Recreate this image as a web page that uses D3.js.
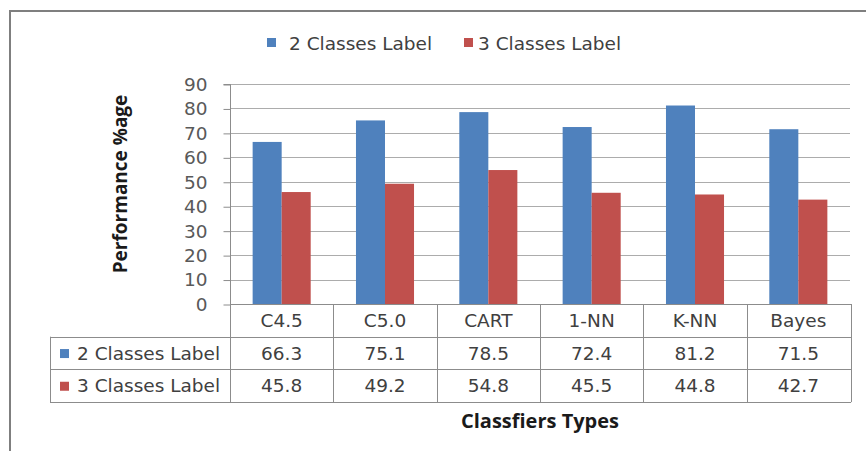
<!DOCTYPE html>
<html><head><meta charset="utf-8">
<script src="https://cdn.jsdelivr.net/npm/d3@7"></script>
<style>
html,body{margin:0;padding:0;background:#fff;overflow:hidden;}
svg{display:block;font-family:"DejaVu Sans",sans-serif;}
</style></head>
<body>
<script>
const categories = ["C4.5","C5.0","CART","1-NN","K-NN","Bayes"];
const seriesNames = ["2 Classes Label","3 Classes Label"];
const twoClasses = [66.3,75.1,78.5,72.4,81.2,71.5];
const threeClasses = [45.8,49.2,54.8,45.5,44.8,42.7];
const yTicks = [0,10,20,30,40,50,60,70,80,90];
const colors = ["#4F81BD","#C0504D"];
const yTitle = "Performance %age";
const xTitle = "Classfiers Types";

const seriesValues = [twoClasses, threeClasses];
const W = 866, H = 451;
const FS = "18.5px";
const TXT = "#404040";
const svg = d3.select("body").append("svg").attr("width",W).attr("height",H);

// outer chart border
svg.append("rect").attr("x",10).attr("y",11).attr("width",880).attr("height",460)
  .attr("fill","#fff").attr("stroke","#7f7f7f").attr("stroke-width",2);

const plotL = 230, plotR = 850, plotT = 84, plotB = 304;
const y = d3.scaleLinear().domain([0,90]).range([plotB,plotT]);
const x0 = d3.scaleBand().domain(categories).range([plotL,plotR]).padding(0);
const x1 = d3.scaleBand().domain(seriesNames).range([0,x0.bandwidth()]).paddingInner(0).paddingOuter(0.78);

// gridlines
svg.append("g").selectAll("line").data(yTicks.filter(d=>d>0)).join("line")
  .attr("x1",plotL).attr("x2",plotR).attr("y1",d=>Math.round(y(d))+0.5).attr("y2",d=>Math.round(y(d))+0.5)
  .attr("stroke","#acacac").attr("stroke-width",1);

// y axis
const yAxis = d3.axisLeft(y).tickValues(yTicks).tickSize(7).tickPadding(16).tickFormat(d3.format("d"));
const ya = svg.append("g").attr("transform",`translate(${plotL+0.5},0.5)`).call(yAxis);
ya.select(".domain").attr("stroke","#8c8c8c").attr("d",`M-7,${y(90)}H0V${plotB}`);
ya.selectAll(".tick line").attr("stroke","#8c8c8c");
ya.selectAll(".tick text").attr("fill","#595959").style("font-size",FS).style("font-family","'DejaVu Sans',sans-serif");

// bars
const groups = svg.append("g").selectAll("g").data(categories).join("g")
  .attr("transform",d=>`translate(${x0(d)},0)`);
groups.selectAll("rect").data((c,i)=>seriesNames.map((s,k)=>({s,v:seriesValues[k][i],k}))).join("rect")
  .attr("x",d=>x1(d.s)).attr("width",x1.bandwidth())
  .attr("y",d=>y(d.v)).attr("height",d=>y(0)-y(d.v))
  .attr("fill",d=>colors[d.k]);

// legend (top)
const legendX = [267,464];
const lg = svg.append("g").selectAll("g").data(seriesNames).join("g")
  .attr("transform",(d,i)=>`translate(${legendX[i]},0)`);
lg.append("rect").attr("x",0).attr("y",38).attr("width",9).attr("height",9).attr("fill",(d,i)=>colors[i]);
lg.append("text").attr("x",(d,i)=>i===0?22:14).attr("y",43).attr("dominant-baseline","central")
  .attr("fill",TXT).style("font-size",FS).text(d=>d);

// data table
const rowH = 32.7;
const tTop = plotB, tLeft = 50;
const rowY = [tTop, tTop+rowH, tTop+2*rowH, tTop+3*rowH];
const tg = svg.append("g");
const lineC = "#8c8c8c";
tg.append("line").attr("x1",plotL).attr("x2",plotR+1).attr("y1",rowY[0]+0.5).attr("y2",rowY[0]+0.5).attr("stroke",lineC);
[1,2,3].forEach(r=>{
  tg.append("line").attr("x1",tLeft).attr("x2",plotR+1).attr("y1",Math.round(rowY[r])+0.5).attr("y2",Math.round(rowY[r])+0.5).attr("stroke",lineC);
});
tg.append("line").attr("x1",tLeft+0.5).attr("x2",tLeft+0.5).attr("y1",rowY[1]).attr("y2",rowY[3]).attr("stroke",lineC);
const vx = categories.map(c=>x0(c)).concat([plotR+1]);
vx.forEach(v=>{
  tg.append("line").attr("x1",Math.round(v)+0.5).attr("x2",Math.round(v)+0.5).attr("y1",rowY[0]).attr("y2",rowY[3]).attr("stroke",lineC);
});
tg.selectAll("text.cat").data(categories).join("text").attr("class","cat")
  .attr("x",d=>x0(d)+x0.bandwidth()/2).attr("y",(rowY[0]+rowY[1])/2).attr("text-anchor","middle")
  .attr("dominant-baseline","central").attr("fill",TXT).style("font-size",FS).text(d=>d);
seriesNames.forEach((s,k)=>{
  const yc = (rowY[k+1]+rowY[k+2])/2;
  tg.append("rect").attr("x",60).attr("y",yc-4).attr("width",9).attr("height",9).attr("fill",colors[k]);
  tg.append("text").attr("x",77).attr("y",yc).attr("dominant-baseline","central")
    .attr("fill",TXT).style("font-size",FS).text(s);
  tg.selectAll(null).data(seriesValues[k]).join("text")
    .attr("x",(d,i)=>x0(categories[i])+x0.bandwidth()/2).attr("y",yc).attr("text-anchor","middle")
    .attr("dominant-baseline","central").attr("fill",TXT).style("font-size",FS).text(d=>d.toFixed(1));
});

// axis titles
svg.append("text").attr("transform",`translate(120,184) rotate(-90)`)
  .attr("text-anchor","middle").attr("dominant-baseline","central")
  .style("font-family","'Open Sans',sans-serif")
  .style("font-size","19px").style("font-weight","bold").attr("fill","#1a1a1a").text(yTitle);
svg.append("text").attr("x",540).attr("y",420).attr("text-anchor","middle").attr("dominant-baseline","central")
  .style("font-family","'Open Sans',sans-serif")
  .style("font-size","20px").style("font-weight","bold").attr("fill","#1a1a1a").text(xTitle);
</script>
</body></html>
